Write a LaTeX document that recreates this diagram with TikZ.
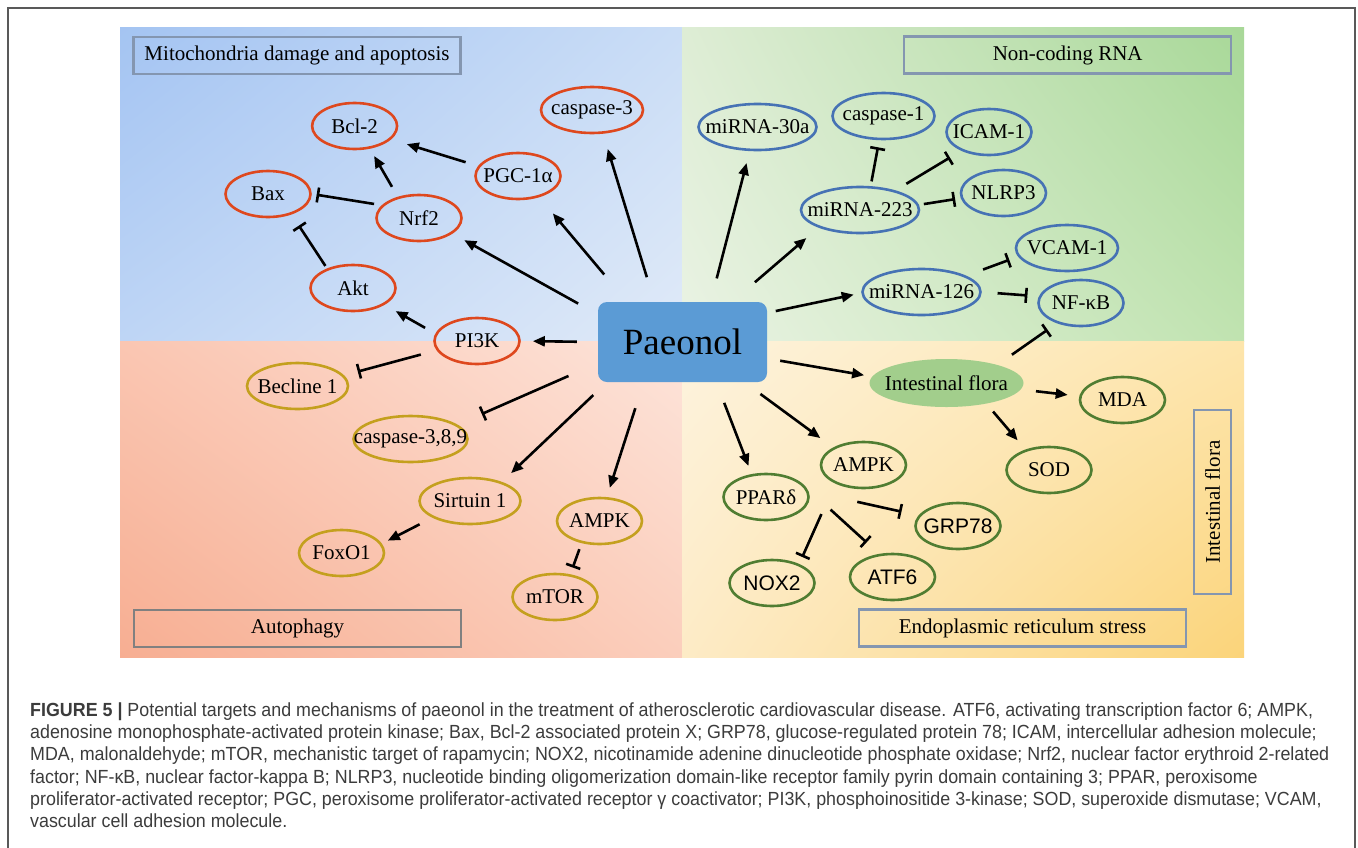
\documentclass[tikz,border=0pt]{standalone}
\usepackage{fontspec}
\setmainfont{Liberation Serif}
\newfontfamily\capfont[FakeStretch=0.94]{Liberation Sans}
\newfontfamily\lblsans{Liberation Sans}
\usetikzlibrary{arrows.meta,shapes.geometric,shadings}

\definecolor{mitoRed}{RGB}{222,72,30}
\definecolor{rnaBlue}{RGB}{70,114,180}
\definecolor{autoGold}{RGB}{196,160,30}
\definecolor{erGreen}{RGB}{80,125,50}
\definecolor{floraFill}{RGB}{162,206,140}
\definecolor{paeoBlue}{RGB}{91,155,213}
\definecolor{boxGray}{RGB}{132,150,176}
\definecolor{capGray}{RGB}{60,60,60}
% quadrant corners
\definecolor{tlA}{RGB}{164,196,242}\definecolor{tlB}{RGB}{202,221,246}
\definecolor{tlC}{RGB}{190,213,245}\definecolor{tlD}{RGB}{224,234,248}
\definecolor{trA}{RGB}{222,237,213}\definecolor{trB}{RGB}{168,216,152}
\definecolor{trC}{RGB}{234,243,228}\definecolor{trD}{RGB}{192,227,176}
\definecolor{blA}{RGB}{250,198,178}\definecolor{blB}{RGB}{253,228,218}
\definecolor{blC}{RGB}{247,174,146}\definecolor{blD}{RGB}{251,206,188}
\definecolor{brA}{RGB}{253,243,222}\definecolor{brB}{RGB}{253,229,172}
\definecolor{brC}{RGB}{253,235,198}\definecolor{brD}{RGB}{251,212,122}

\tikzset{
  lbl/.style={font=\fontsize{21}{24}\selectfont},
  oval/.style={ellipse, lbl, line width=2.6pt, minimum width=85pt, minimum height=46pt,
    inner xsep=-25pt, inner ysep=0pt},
  mitonode/.style={oval, draw=mitoRed},
  rnanode/.style={oval, draw=rnaBlue},
  autonode/.style={oval, draw=autoGold},
  ernode/.style={oval, draw=erGreen},
  sanslbl/.style={font=\lblsans\fontsize{21}{24}\selectfont},
  titlebox/.style={draw=boxGray, line width=2.4pt, lbl, inner sep=0pt, minimum height=37pt},
  act/.style={line width=2.6pt, -{Triangle[length=12pt,width=10pt]}},
  inh/.style={line width=2.6pt, -{Bar[width=15pt]}},
}

\begin{document}
\begin{tikzpicture}[x=1pt, y=-1pt]
  \useasboundingbox (0,0) rectangle (1358,847);
  \fill[white] (0,0) rectangle (1358,847);
  \draw[line width=1.6pt, black!65] (8,860) -- (8,8) -- (1355,8) -- (1355,860);

  % Quadrants
  \shade[upper left=tlA, upper right=tlB, lower left=tlC, lower right=tlD] (120,27) rectangle (682,341);
  \shade[upper left=trA, upper right=trB, lower left=trC, lower right=trD] (682,27) rectangle (1244,341);
  \shade[upper left=blA, upper right=blB, lower left=blC, lower right=blD] (120,341) rectangle (682,657);
  \shade[upper left=brA, upper right=brB, lower left=brC, lower right=brD] (682,341) rectangle (1244,657);

  % Titles
  \node[titlebox, minimum width=327pt] (mitoTitle) at (297,55.5) {Mitochondria damage and apoptosis};
  \node[titlebox, minimum width=327pt] (rnaTitle) at (1067.7,55) {Non-coding RNA};
  \node[titlebox, draw=black!50, minimum width=327pt] (autoTitle) at (297.5,628.5) {Autophagy};
  \node[titlebox, minimum width=327pt] (erTitle) at (1022.5,628) {Endoplasmic reticulum stress};
  \node[titlebox, rotate=90, minimum width=184pt] (floraTitle) at (1212.5,502) {Intestinal flora};

  % Centre
  \node[fill=paeoBlue, rounded corners=9pt, minimum width=169pt, minimum height=80pt,
    font=\fontsize{37}{40}\selectfont] (paeonol) at (682.5,342) {Paeonol};

  % Mitochondria damage and apoptosis
  \node[mitonode] (bcl) at (354.6,126) {Bcl-2};
  \node[mitonode, minimum width=102pt] (casp3) at (592,110) {caspase-3};
  \node[mitonode] (pgc) at (518,176) {PGC-1α};
  \node[mitonode] (bax) at (268,194) {Bax};
  \node[mitonode] (nrf2) at (419,218) {Nrf2};
  \node[mitonode] (akt) at (353,288) {Akt};
  \node[mitonode] (pi3k) at (477,341) {PI3K};

  % Autophagy
  \node[autonode, minimum width=101pt] (becl) at (297.5,386) {Becline 1};
  \node[autonode, minimum width=114pt] (casp389) at (410.5,439) {caspase-3,8,9};
  \node[autonode, minimum width=101pt] (sirt) at (470,501) {Sirtuin 1};
  \node[autonode] (ampkl) at (599.5,521) {AMPK};
  \node[autonode] (foxo) at (341.5,553) {FoxO1};
  \node[autonode] (mtor) at (555,597) {mTOR};

  % Non-coding RNA
  \node[rnanode, minimum width=118pt] (mir30) at (757.5,127) {miRNA-30a};
  \node[rnanode, minimum width=102pt] (casp1) at (883.5,116) {caspase-1};
  \node[rnanode] (icam) at (989,132) {ICAM-1};
  \node[rnanode] (nlrp3) at (1003.5,193) {NLRP3};
  \node[rnanode, minimum width=118pt] (mir223) at (860,210) {miRNA-223};
  \node[rnanode, minimum width=102pt] (vcam) at (1067,248) {VCAM-1};
  \node[rnanode, minimum width=118pt] (mir126) at (921.5,292) {miRNA-126};
  \node[rnanode] (nfkb) at (1081,303) {NF-κB};

  % Intestinal flora and ER stress
  \node[oval, fill=floraFill, minimum width=154pt, minimum height=48pt] (flora) at (946.5,383) {Intestinal flora};
  \node[ernode] (mda) at (1122.5,400) {MDA};
  \node[ernode] (sod) at (1049,470) {SOD};
  \node[ernode] (ampkr) at (863.5,465) {AMPK};
  \node[ernode] (ppar) at (766,497) {PPARδ};
  \node[ernode, sanslbl] (grp) at (958,526) {GRP78};
  \node[ernode, sanslbl] (nox) at (772,583) {NOX2};
  \node[ernode, sanslbl] (atf) at (892.5,577) {ATF6};

  % Activation
  \foreach \src/\sang/\scut/\dst/\dang/\dcut in {
      paeonol/162/22.5/nrf2/-25/13.4, paeonol/144/35.7/pgc/-45/21.1,
      paeonol/125/25.7/casp3/-65.5/15.9, pgc/166/13/bcl/-20.4/16.3,
      nrf2/135.4/11.5/bcl/-56.8/8.3, pi3k/170.4/11.7/akt/-28.7/12.7,
      paeonol/180/21/pi3k/0/12, paeonol/208.8/18.7/sirt/31.9/12.7,
      paeonol/226.9/27.3/ampkl/73.5/9.7, sirt/204.7/14.4/foxo/13.3/6.6,
      paeonol/55.6/24.2/mir30/252.6/12.3, paeonol/39.3/30/mir223/203.5/16,
      paeonol/19/8.7/mir126/181.7/7.7, paeonol/-11/13.2/flora/175.1/6.9,
      flora/-5.2/14/mda/175.9/11.6, flora/-28.1/9.1/sod/139.5/12,
      paeonol/-50.3/22.1/ppar/122/8.7, paeonol/-33.3/19.9/ampkr/150.1/15.9}
    \draw[act, shorten <=\scut pt, shorten >=\dcut pt] (\src.\sang) -- (\dst.\dang);

  % Inhibition
  \foreach \src/\sang/\scut/\dst/\dang/\dcut in {
      nrf2/161.3/7.8/bax/0/4.9, akt/143.5/3/bax/-41/13.3,
      pi3k/193/16.3/becl/13.1/14.3, paeonol/194.6/32/casp389/17/26.5,
      ampkl/231.7/6.4/mtor/56.4/7.1, mir223/66.8/4.8/casp1/260/7.2,
      mir223/29.8/12.7/icam/214.2/13.1, mir223/5.3/5/nlrp3/187.1/5.7,
      mir126/20.9/17.9/vcam/190.9/9.4, mir126/-0.8/15.8/nfkb/171.4/11.5,
      flora/20.3/16.4/nfkb/220.2/11.3, ppar/8/50/grp/165.4/17.5,
      ampkr/213.4/33.5/nox/35.3/7.6, ppar/25/42/atf/120.3/17}
    \draw[inh, shorten <=\scut pt, shorten >=\dcut pt] (\src.\sang) -- (\dst.\dang);

  % Caption
  \node[anchor=north west, align=left, inner sep=0pt, text=capGray,
    font=\capfont\fontsize{19}{22.3}\selectfont] (caption) at (30,698)
    {\rule{0pt}{18pt}\textbf{FIGURE 5 |} Potential targets and mechanisms of paeonol in the treatment of atherosclerotic cardiovascular disease. ATF6, activating transcription factor 6; AMPK,\\
     adenosine monophosphate-activated protein kinase; Bax, Bcl-2 associated protein X; GRP78, glucose-regulated protein 78; ICAM, intercellular adhesion molecule;\\
     MDA, malonaldehyde; mTOR, mechanistic target of rapamycin; NOX2, nicotinamide adenine dinucleotide phosphate oxidase; Nrf2, nuclear factor erythroid 2-related\\
     factor; NF-κB, nuclear factor-kappa B; NLRP3, nucleotide binding oligomerization domain-like receptor family pyrin domain containing 3; PPAR, peroxisome\\
     proliferator-activated receptor; PGC, peroxisome proliferator-activated receptor γ coactivator; PI3K, phosphoinositide 3-kinase; SOD, superoxide dismutase; VCAM,\\
     vascular cell adhesion molecule.};
\end{tikzpicture}
\end{document}
